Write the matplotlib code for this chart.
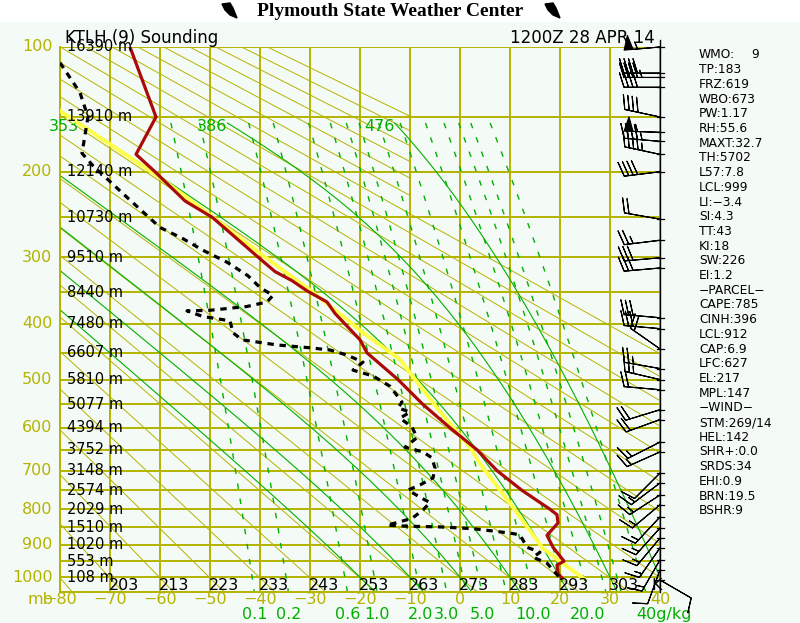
import numpy as np
import matplotlib
matplotlib.use("Agg")
import matplotlib.pyplot as plt
from matplotlib.patches import Polygon, Rectangle

KAPPA = 0.2857
P_TOP, P_BOT = 100, 1048
OLIVE = "#B4B400"
GREEN = "#00B000"
BG = "#F4FAF6"

# --- sounding values ---
temp_p = [100, 150, 183, 200, 231, 250, 300, 320, 333, 348, 365, 383, 427, 450, 500,
          550, 600, 650, 700, 750, 800, 815, 838, 873, 908, 950, 962, 988, 1003]
temp_c = [-66, -60.8, -64.8, -61, -55, -49.5, -40.4, -37, -33.6, -30.6, -26.6, -25, -20, -18.6, -12.4,
          -7.4, -2, 3.4, 7.4, 12.4, 18, 19.4, 19.6, 17.4, 18.6, 20.8, 19.4, 19.6, 20.4]

dwpt_p = [110, 131, 150, 182, 194, 228, 262, 276, 291, 307, 326, 343, 355, 365, 372,
          378, 379, 388, 395, 415, 427, 436, 441, 445, 454, 467, 482, 493, 513, 545,
          557, 566, 579, 598, 622, 644, 655, 669, 694, 718, 736, 749, 768, 782, 802,
          825, 836, 844, 847, 849, 854, 862, 868, 872, 908, 923, 938, 956, 1003]
dwpt_c = [-80, -76, -74.4, -75.6, -73.4, -66.4, -60, -55.4, -51.4, -46.6, -42.4, -40, -37.4, -38.6, -42.6,
          -50, -54.6, -51.4, -46, -45.4, -43.6, -36.6, -30, -26, -22.6, -19.4, -21.4, -17.4, -14, -11.6,
          -12.4, -10, -12, -9.6, -8.6, -11, -7.4, -5.6, -5, -5.4, -8, -10.4, -8, -6, -7.4,
          -9.6, -12.4, -14.6, -10.6, -4, 2.6, 7.4, 10.6, 12, 13.4, 16, 14.6, 17.4, 20]

parcel_p = [1003, 912, 795, 683, 644, 565, 487, 462, 411, 393, 347, 295, 247, 206, 145]
parcel_c = [24.6, 16.6, 10.6, 4, 2, -4, -10, -12, -20, -22.6, -30, -40, -50, -60, -80]

wind_p = [100, 117, 120, 127, 150, 163, 171, 183, 200, 252, 278, 301, 315, 390, 408, 443, 479,
          500, 520, 561, 582, 632, 655, 706, 731, 762, 788, 821, 852, 881, 910, 946, 977, 1009]
wind_dir = [265, 270, 270, 270, 282, 272, 275, 282, 263, 280, 263, 265, 265, 275, 275, 305, 280,
            283, 275, 253, 250, 243, 246, 225, 233, 237, 230, 223, 222, 220, 215, 210, 200, 120]
wind_kt = [55, 40, 45, 40, 40, 55, 45, 45, 40, 20, 25, 30, 30, 30, 30, 20, 25,
           25, 20, 20, 20, 15, 15, 10, 15, 15, 15, 15, 15, 15, 15, 15, 10, 10]

height_p = list(range(100, 1001, 50))
height_m = [16390, 13910, 12140, 10730, 9510, 8440, 7480, 6607, 5810, 5077,
            4394, 3752, 3148, 2574, 2029, 1510, 1020, 553, 108]

theta_k = list(range(203, 304, 10))
dry_theta = list(range(193, 394, 10))       # full-length dry adiabats
upper_theta = list(range(403, 454, 10))     # upper-level ones, stop at -10 C
mix_values = [0.1, 0.2, 0.6, 1, 2, 3, 4, 5, 7, 10, 15, 20, 25, 30, 40]
mix_labels = {0.1: "0.1", 0.2: "0.2", 0.6: "0.6", 1: "1.0", 2: "2.0", 3: "3.0",
              5: "5.0", 10: "10.0", 20: "20.0"}
moist_tw = [-20, -10, 0, 10, 20, 30, 40]
moist_labels = {20: "353", 30: "386", 40: "476"}

stats = ["TP:183", "FRZ:619", "WBO:673", "PW:1.17", "RH:55.6", "MAXT:32.7", "TH:5702",
         "L57:7.8", "LCL:999", "LI:\u22123.4", "SI:4.3", "TT:43", "KI:18", "SW:226", "EI:1.2",
         "\u2212PARCEL\u2212", "CAPE:785", "CINH:396", "LCL:912", "CAP:6.9", "LFC:627",
         "EL:217", "MPL:147", "\u2212WIND\u2212", "STM:269/14", "HEL:142", "SHR+:0.0",
         "SRDS:34", "EHI:0.9", "BRN:19.5", "BSHR:9"]


def sat_vap(t_c):
    return 6.112 * np.exp(17.67 * t_c / (t_c + 243.5))


def dew_from_mix(w, p):
    e = w * p / (622.0 + w)
    a = np.log(e / 6.112)
    return 243.5 * a / (17.67 - a)


def moist_rate(p, t):
    rd, cp, lv, eps = 287.04, 1005.7, 2.501e6, 0.622
    es = sat_vap(t - 273.15)
    ws = eps * es / (p - es)
    return (rd * t + lv * ws) / (p * (cp + lv * lv * ws * eps / (rd * t * t)))


def integrate(t0, p0, p1, n):
    ps = np.linspace(p0, p1, n)
    ts = [t0]
    t = t0
    for i in range(n - 1):
        h = ps[i + 1] - ps[i]
        p = ps[i]
        k1 = moist_rate(p, t)
        k2 = moist_rate(p + h / 2, t + h / 2 * k1)
        k3 = moist_rate(p + h / 2, t + h / 2 * k2)
        k4 = moist_rate(p + h, t + h * k3)
        t = t + h / 6 * (k1 + 2 * k2 + 2 * k3 + k4)
        ts.append(t)
    return ps, np.array(ts)


fig = plt.figure(figsize=(8, 6.23), dpi=100)
fig.patch.set_facecolor(BG)
fig.add_artist(Rectangle((0, 1 - 22 / 623), 1, 22 / 623, transform=fig.transFigure,
                         facecolor="white", edgecolor="none"))


def fx(px):
    return px / 800


def fy(py):
    return 1 - py / 623


ax = fig.add_axes([fx(60), fy(592), 0.75, (592 - 47) / 623])
ax.set_facecolor(BG)
ax.set_yscale("function", functions=(lambda p: np.power(np.abs(p), KAPPA),
                                     lambda y: np.power(np.abs(y), 1 / KAPPA)))
ax.set_xlim(-80, 40)
ax.set_ylim(P_BOT, P_TOP)
ax.set_xticks([])
ax.set_yticks([])
ax.minorticks_off()
for s in ["top", "right"]:
    ax.spines[s].set_visible(False)
for s in ["left", "bottom"]:
    ax.spines[s].set_color(OLIVE)
    ax.spines[s].set_linewidth(1.4)

# isotherms and isobars
for t in range(-80, 41, 10):
    ax.plot([t, t], [P_BOT, P_TOP], color=OLIVE, lw=1.4, zorder=1)
for p in range(100, 1001, 50):
    ax.plot([-80, 40], [p, p], color=OLIVE, lw=1.4, zorder=1)

# dry adiabats
for th in dry_theta:
    pp = np.array([P_TOP, P_BOT])
    ax.plot(th * (pp / 1000.0) ** KAPPA - 273.15, pp, color=OLIVE, lw=0.7, zorder=1)
for th in upper_theta:
    p_end = 1000.0 * ((273.15 - 10) / th) ** (1 / KAPPA)
    pp = np.array([P_TOP, p_end])
    ax.plot(th * (pp / 1000.0) ** KAPPA - 273.15, pp, color=OLIVE, lw=0.7, zorder=1)

# mixing ratio lines
pm = np.linspace(155, P_BOT, 80)
for w in mix_values:
    ax.plot(dew_from_mix(w, pm), pm, color=GREEN, lw=1.0, ls=(0, (4, 7)), zorder=2)
    xb = dew_from_mix(w, P_BOT)
    if w in mix_labels:
        ax.annotate(mix_labels[w], (xb, P_BOT), xytext=(0, -11), textcoords="offset points",
                    ha="center", va="top", color=GREEN, fontsize=11.5, annotation_clip=False)
    if w == 40:
        ax.annotate("40g/kg", (xb, P_BOT), xytext=(-7, -11), textcoords="offset points",
                    ha="left", va="top", color=GREEN, fontsize=11.5, annotation_clip=False)

# moist adiabats
for tw in moist_tw:
    pu, tu = integrate(tw + 273.15, 1000.0, 155.0, 240)
    pd, td = integrate(tw + 273.15, 1000.0, P_BOT, 20)
    pp = np.concatenate([pd[::-1], pu[1:]])
    tt = np.concatenate([td[::-1], tu[1:]]) - 273.15
    ax.plot(tt, pp, color=GREEN, lw=0.8, zorder=2)
    if tw in moist_labels:
        ax.text(max(tt[-1], -76.6), 158, moist_labels[tw], ha="right", va="center",
                color=GREEN, fontsize=11.5, clip_on=False, zorder=3)

# parcel, temperature, dewpoint
ax.plot(parcel_c, parcel_p, color="#FFFF48", lw=2.8, zorder=4)
ax.plot(temp_c, temp_p, color="#AA0A0A", lw=2.3, zorder=5)
ax.plot(dwpt_c, dwpt_p, color="black", lw=2.3, ls=(0, (2, 1.8)), zorder=5)

# right wind column
ax.plot([40, 40], [P_BOT, 96], color="black", lw=1.0, clip_on=False, zorder=6)
for p in wind_p:
    ax.plot([39.3, 40.7], [p, p], color="black", lw=0.9, clip_on=False, zorder=6)
rad = np.deg2rad(wind_dir)
u = -np.array(wind_kt) * np.sin(rad)
v = -np.array(wind_kt) * np.cos(rad)
ax.barbs(np.full(len(wind_p), 40.0), wind_p, u, v, length=7.2, lw=0.8, color="black",
         clip_on=False, zorder=6)

# axis labels
for p in range(100, 1001, 100):
    ax.text(-81.5, p, str(p), ha="right", va="center", color=OLIVE, fontsize=11.5, clip_on=False)
for p, h in zip(height_p, height_m):
    ax.text(-78.6, p, f"{h} m", ha="left", va="center", color="black", fontsize=10.5, zorder=7)
for th in theta_k:
    ax.text(th - 273.15, 1003, str(th), ha="left", va="top", color="black", fontsize=11.5, zorder=7)
ax.text(39.4, 1003, "K", ha="center", va="top", color="black", fontsize=11.5, zorder=7)
for t in range(-80, 41, 10):
    lab = str(t).replace("-", "\u2212")
    ax.text(t, P_BOT, lab, ha="center", va="top", color=OLIVE, fontsize=11.5, clip_on=False)
fig.text(fx(53), fy(600), "mb", ha="right", va="center", color=OLIVE, fontsize=11.5)

fig.text(fx(65), fy(38), "KTLH (9) Sounding", ha="left", va="center", fontsize=12)
fig.text(fx(655), fy(38), "1200Z 28 APR 14", ha="right", va="center", fontsize=12)

fig.text(fx(390), fy(11), "Plymouth State Weather Center", ha="center", va="center",
         fontsize=14, fontweight="bold", family="Liberation Serif")
for x0 in (222, 545):
    pts = [(x0, 4), (x0 + 8, 3), (x0 + 11, 8), (x0 + 15, 18), (x0 + 8, 15), (x0 + 3, 10)]
    fig.add_artist(Polygon([(fx(a), fy(b)) for a, b in pts], closed=True,
                           transform=fig.transFigure, facecolor="black", edgecolor="black"))

# station statistics
fig.text(fx(699), fy(55), "WMO:", ha="left", va="center", fontsize=8.8)
fig.text(fx(751), fy(55), "9", ha="left", va="center", fontsize=8.8)
for i, s in enumerate(stats):
    fig.text(fx(699), fy(55 + 14.7 * (i + 1)), s, ha="left", va="center", fontsize=8.8)

fig.savefig("out.png", dpi=100, facecolor=BG)
